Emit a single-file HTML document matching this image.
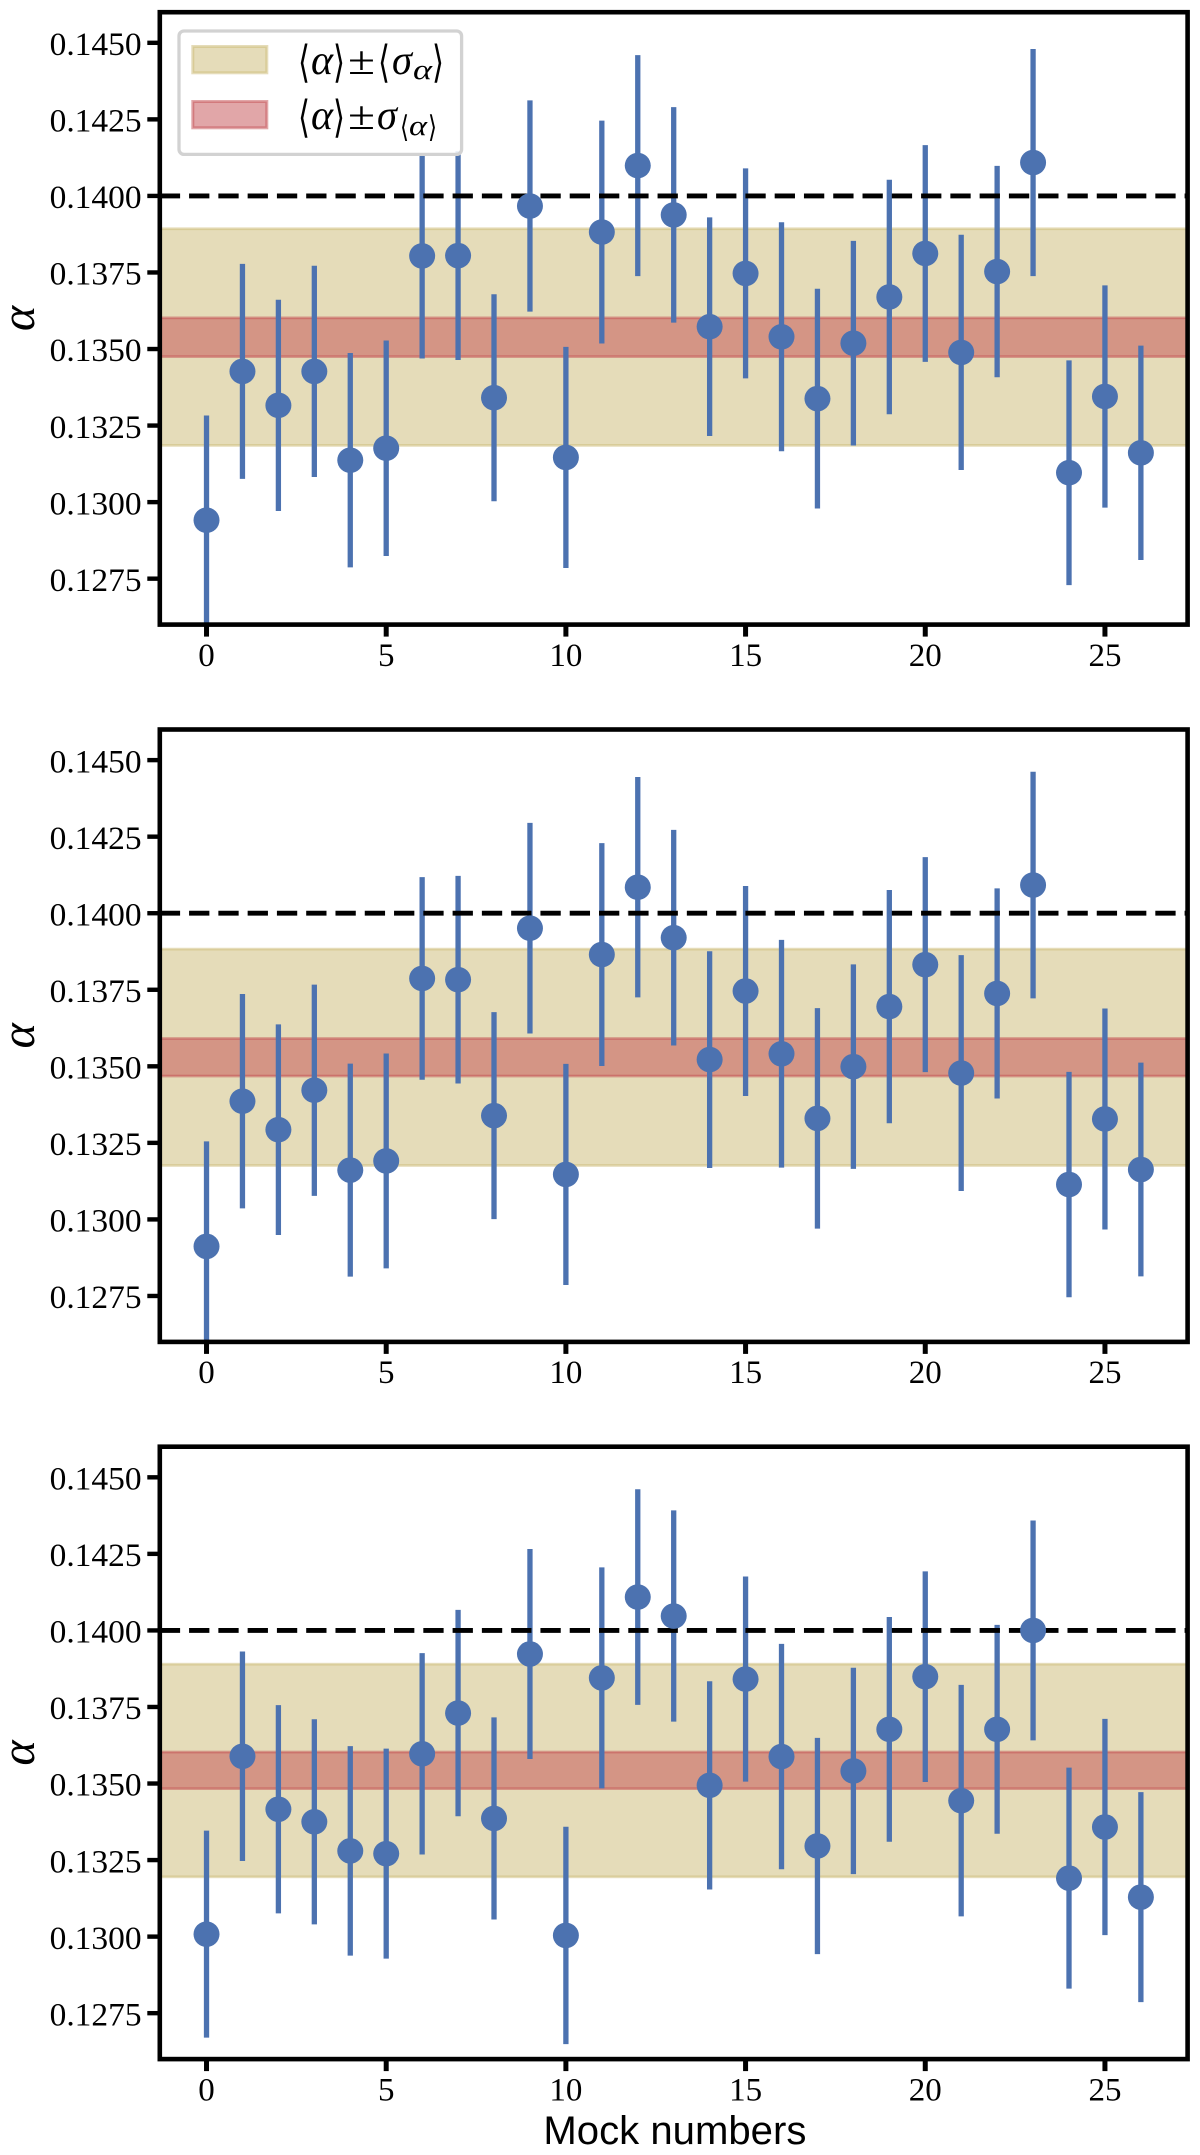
<!DOCTYPE html>
<html lang="en">
<head>
<meta charset="utf-8">
<title>Alpha measurements across mock numbers</title>
<style>
html,body{margin:0;padding:0;background:#fff;}
#chart{display:block;position:absolute;left:0;top:0;}
text{fill:#000;}
</style>
</head>
<body>
<svg id="chart" xmlns="http://www.w3.org/2000/svg" width="1200" height="2155" viewBox="0 0 1200 2155"></svg>
<script>
const xTickValues = [0, 5, 10, 15, 20, 25];
const yTickValues = [0.145, 0.1425, 0.14, 0.1375, 0.135, 0.1325, 0.13, 0.1275];
const yTickLabels = ["0.1450", "0.1425", "0.1400", "0.1375", "0.1350", "0.1325", "0.1300", "0.1275"];
const xDomain = [-1.3, 27.3];
const yDomain = [0.126, 0.146];
const referenceAlpha = 0.14;

const alphaTop = [0.12941,0.13427,0.13316,0.13427,0.13137,0.13176,0.13804,0.13805,0.13341,0.13967,0.13146,0.13882,0.14099,0.13938,0.13573,0.13747,0.13540,0.13338,0.13519,0.13670,0.13812,0.13489,0.13753,0.14109,0.13096,0.13345,0.13161];
const errorTop = [0.00342,0.00351,0.00345,0.00345,0.00350,0.00352,0.00335,0.00341,0.00338,0.00345,0.00361,0.00364,0.00361,0.00352,0.00357,0.00343,0.00374,0.00359,0.00334,0.00383,0.00354,0.00384,0.00345,0.00371,0.00367,0.00363,0.00350];
const bandTop = [0.13181, 0.13897];
const meanBandTop = [0.13471, 0.13606];

const alphaMiddle = [0.12912,0.13386,0.13293,0.13422,0.13161,0.13191,0.13787,0.13783,0.13339,0.13951,0.13147,0.13865,0.14085,0.13920,0.13522,0.13746,0.13541,0.13330,0.13499,0.13695,0.13832,0.13478,0.13738,0.14092,0.13114,0.13328,0.13163];
const errorMiddle = [0.00343,0.00350,0.00344,0.00345,0.00348,0.00351,0.00331,0.00339,0.00338,0.00344,0.00361,0.00364,0.00360,0.00352,0.00354,0.00343,0.00372,0.00360,0.00334,0.00381,0.00351,0.00385,0.00343,0.00370,0.00368,0.00361,0.00349];
const bandMiddle = [0.13172, 0.13887];
const meanBandMiddle = [0.13464, 0.13595];

const alphaBottom = [0.13008,0.13589,0.13416,0.13375,0.13280,0.13271,0.13597,0.13730,0.13386,0.13923,0.13004,0.13845,0.14109,0.14047,0.13494,0.13841,0.13588,0.13296,0.13541,0.13677,0.13849,0.13444,0.13677,0.14000,0.13191,0.13358,0.13129];
const errorBottom = [0.00338,0.00342,0.00340,0.00335,0.00342,0.00343,0.00329,0.00337,0.00330,0.00343,0.00355,0.00361,0.00352,0.00345,0.00340,0.00335,0.00368,0.00353,0.00337,0.00367,0.00344,0.00378,0.00341,0.00359,0.00361,0.00353,0.00343];
const bandBottom = [0.13191, 0.13894];
const meanBandBottom = [0.13479, 0.13607];

const NS = "http://www.w3.org/2000/svg";
const svg = document.getElementById("chart");
const plotLeft = 159.8, plotRight = 1187.6, plotHeight = 612.4;
const BLUE = "#4C72B0", SAND = "#CCB974", RED = "#C44E52";
const NUM_FONT = '"Liberation Serif", serif';
const MATH_FONT = '"Liberation Serif", "DejaVu Serif", serif';
const BRACKET_FONT = '"DejaVu Sans", "Liberation Sans", sans-serif';

function make(parent, tag, attrs, content) {
  const node = document.createElementNS(NS, tag);
  for (const key in attrs) node.setAttribute(key, attrs[key]);
  if (content !== undefined) node.textContent = content;
  parent.appendChild(node);
  return node;
}
function xScale(v) {
  return plotLeft + (v - xDomain[0]) / (xDomain[1] - xDomain[0]) * (plotRight - plotLeft);
}
function yScale(v, top) {
  return top + (yDomain[1] - v) / (yDomain[1] - yDomain[0]) * plotHeight;
}

function drawBand(group, range, color, top, left, width, name) {
  const y1 = yScale(range[1], top), y0 = yScale(range[0], top);
  const el = make(group, "rect", {x: left, y: y1 + 1.3, width: width, height: y0 - y1 - 2.6, fill: color, "fill-opacity": 0.5, stroke: color, "stroke-opacity": 0.5, "stroke-width": 2.7});
  
  
}

function drawPanel(index, top, alpha, error, band, meanBand, showXTitle) {
  const panel = make(svg, "g", {});
  
  

  const clipId = "clip-" + index;
  const defs = make(panel, "defs", {});
  const clip = make(defs, "clipPath", {id: clipId});
  make(clip, "rect", {x: plotLeft, y: top, width: plotRight - plotLeft, height: plotHeight});

  const plot = make(panel, "g", {"clip-path": "url(#" + clipId + ")"});
  
  

  drawBand(plot, band, SAND, top, plotLeft, plotRight - plotLeft, 'sigma-mean-band-' + index);
  drawBand(plot, meanBand, RED, top, plotLeft, plotRight - plotLeft, 'error-on-mean-band-' + index);

  alpha.forEach(function (value, i) {
    const bar = make(plot, "line", {x1: xScale(i), x2: xScale(i), y1: yScale(value + error[i], top), y2: yScale(value - error[i], top), stroke: BLUE, "stroke-width": 5.3});
    
    
  });

  const ref = make(plot, "line", {x1: plotLeft, x2: plotRight, y1: yScale(referenceAlpha, top), y2: yScale(referenceAlpha, top), stroke: "#000", "stroke-width": 4.9, "stroke-dasharray": "20.3 8.98"});
  
  

  alpha.forEach(function (value, i) {
    const dot = make(plot, "ellipse", {cx: xScale(i), cy: yScale(value, top), rx: 13, ry: 12.8, fill: BLUE});
    
    
  });

  const bottom = top + plotHeight;

  yTickValues.forEach(function (value, i) {
    const py = yScale(value, top);
    const tick = make(panel, "line", {x1: 147.3, x2: plotLeft, y1: py, y2: py, stroke: "#000", "stroke-width": 4.4});
    
    
    const label = make(panel, "text", {x: 141.6, y: py + 12.2, "text-anchor": "end", "font-family": NUM_FONT, "font-size": 33, textLength: 92, lengthAdjust: "spacingAndGlyphs"}, yTickLabels[i]);
    
    
  });

  xTickValues.forEach(function (value, i) {
    const px = xScale(value);
    const tick = make(panel, "line", {x1: px, x2: px, y1: bottom, y2: bottom + 12, stroke: "#000", "stroke-width": 5});
    
    
    const label = make(panel, "text", {x: px, y: bottom + 41.2, "text-anchor": "middle", "font-family": NUM_FONT, "font-size": 33}, String(value));
    
    
  });

  const frame = make(panel, "rect", {x: plotLeft, y: top, width: plotRight - plotLeft, height: plotHeight, fill: "none", stroke: "#000", "stroke-width": 4.6});
  
  

  const cy = top + plotHeight / 2;
  const yTitle = make(panel, "text", {x: 33.8, y: cy, transform: "rotate(-90 33.8 " + cy + ")", "text-anchor": "middle", "font-family": MATH_FONT, "font-style": "italic", "font-size": 48}, "α");
  
  

  if (showXTitle) {
    const xTitle = make(panel, "text", {x: 543.4, y: 2144, "font-family": '"Liberation Sans", sans-serif', "font-size": 40, textLength: 263, lengthAdjust: "spacingAndGlyphs"}, "Mock numbers");
    
    
  }
}

function glyph(parent, x, y, size, str, family, style, width) {
  const attrs = {x: x, y: y, "font-size": size, "font-family": family};
  if (style) attrs["font-style"] = style;
  if (width) { attrs.textLength = width; attrs.lengthAdjust = "spacingAndGlyphs"; }
  return make(parent, "text", attrs, str);
}

function drawLegend() {
  const legend = make(svg, "g", {});
  
  

  const box = make(legend, "rect", {x: 179, y: 31, width: 282.6, height: 123.4, rx: 5, ry: 5, fill: "#fff", "fill-opacity": 0.85, stroke: "#d2d2d2", "stroke-width": 3.3});
  
  

  const swatchA = make(legend, "rect", {x: 192.8, y: 46.5, width: 74, height: 26.3, fill: SAND, "fill-opacity": 0.5, stroke: SAND, "stroke-opacity": 0.5, "stroke-width": 3});
  
  

  const swatchB = make(legend, "rect", {x: 192.8, y: 101.5, width: 74, height: 26.3, fill: RED, "fill-opacity": 0.5, stroke: RED, "stroke-opacity": 0.5, "stroke-width": 3});
  
  

  const rowA = make(legend, "g", {});
  
  
  glyph(rowA, 298, 77, 44, "⟨", BRACKET_FONT, null, 12);
  glyph(rowA, 311, 74, 42, "α", MATH_FONT, "italic", 22);
  glyph(rowA, 333, 77, 44, "⟩", BRACKET_FONT, null, 12);
  glyph(rowA, 348, 74, 40, "±", MATH_FONT, null, 27);
  glyph(rowA, 378, 77, 44, "⟨", BRACKET_FONT, null, 12);
  glyph(rowA, 392, 74, 42, "σ", MATH_FONT, "italic", 20);
  glyph(rowA, 413, 79, 28, "α", MATH_FONT, "italic", 19);
  glyph(rowA, 432, 77, 44, "⟩", BRACKET_FONT, null, 12);

  const rowB = make(legend, "g", {});
  
  
  glyph(rowB, 298, 132, 44, "⟨", BRACKET_FONT, null, 12);
  glyph(rowB, 311, 129, 42, "α", MATH_FONT, "italic", 22);
  glyph(rowB, 333, 132, 44, "⟩", BRACKET_FONT, null, 12);
  glyph(rowB, 348, 129, 40, "±", MATH_FONT, null, 27);
  glyph(rowB, 377, 129, 42, "σ", MATH_FONT, "italic", 20);
  glyph(rowB, 400, 137, 30, "⟨", BRACKET_FONT, null, 9);
  glyph(rowB, 409, 135, 28, "α", MATH_FONT, "italic", 18);
  glyph(rowB, 428, 137, 30, "⟩", BRACKET_FONT, null, 9);
}

drawPanel(1, 12.2, alphaTop, errorTop, bandTop, meanBandTop, false);
drawPanel(2, 729.5, alphaMiddle, errorMiddle, bandMiddle, meanBandMiddle, false);
drawPanel(3, 1446.7, alphaBottom, errorBottom, bandBottom, meanBandBottom, true);
drawLegend();
</script>
</body>
</html>
